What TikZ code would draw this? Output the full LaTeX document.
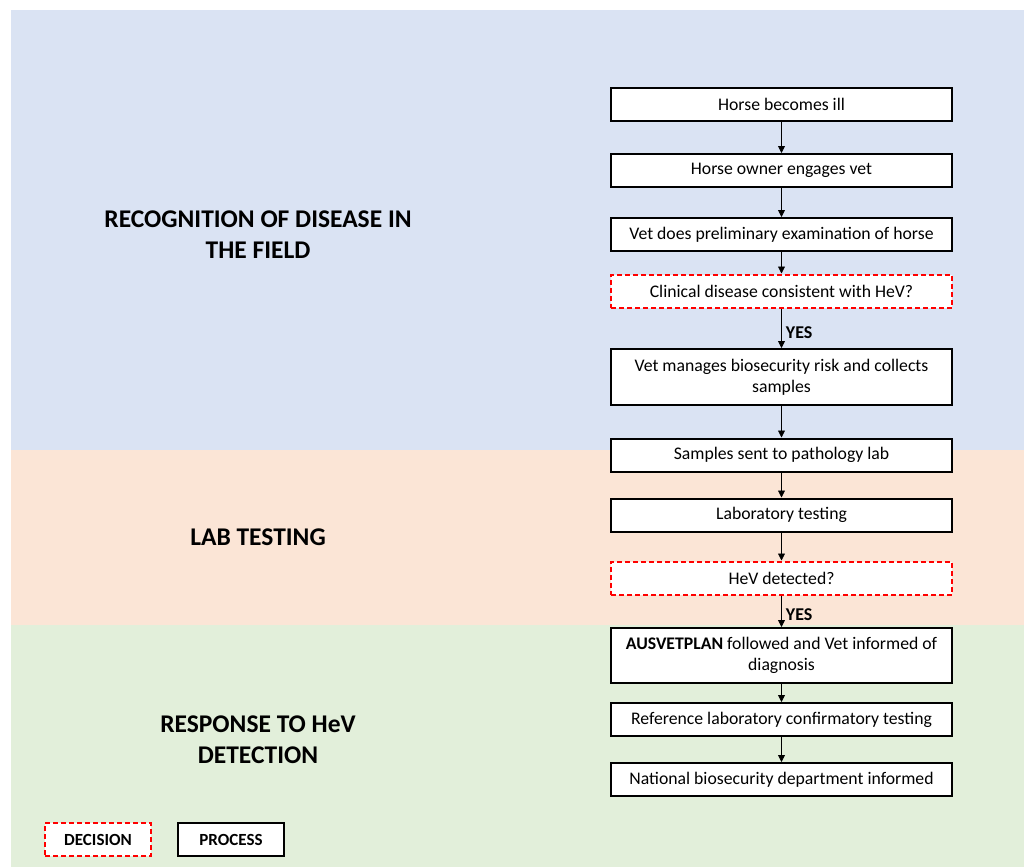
\documentclass[tikz,border=0pt]{standalone}
\usepackage{fontspec}
\setmainfont{Carlito}
\usetikzlibrary{arrows.meta}

\definecolor{bandblue}{RGB}{218,227,243}
\definecolor{bandpeach}{RGB}{251,229,214}
\definecolor{bandgreen}{RGB}{226,239,218}

\begin{document}
\begin{tikzpicture}[x=1pt,y=-1pt,
proc/.style={draw,line width=2pt,fill=white,minimum width=341pt,minimum height=33pt,inner sep=0pt,align=center,font=\fontsize{17.7}{21}\selectfont},
dec/.style={proc,draw=red,dash pattern=on 5pt off 3pt},
legbox/.style={proc,minimum width=106pt,font=\fontsize{17}{19}\selectfont\bfseries},
stage/.style={align=center,font=\fontsize{25.5}{31}\selectfont\bfseries},
arr/.style={line width=0.8pt,-{Triangle[length=7pt,width=7pt]}},
yes/.style={right,pos=0.6,inner sep=4pt,font=\fontsize{18}{20}\selectfont\bfseries}]
\useasboundingbox (0,0) rectangle (1024,867);
% background bands
\fill[bandblue] (11,10) rectangle (1024,450);
\fill[bandpeach] (11,450) rectangle (1024,625);
\fill[bandgreen] (11,625) rectangle (1024,867);
% stage titles
\node[stage] (recog) at (258,235) {RECOGNITION OF DISEASE IN\\THE FIELD};
\node[stage] (lab) at (258,537) {LAB TESTING};
\node[stage] (resp) at (258,740) {RESPONSE TO HeV\\DETECTION};
% flow
\node[proc] (b1) at (781.5,104.5) {Horse becomes ill};
\node[proc] (b2) at (781.5,170.5) {Horse owner engages vet};
\node[proc] (b3) at (781.5,234.5) {Vet does preliminary examination of horse};
\node[dec] (d1) at (781.5,291) {Clinical disease consistent with HeV?};
\node[proc,minimum height=56pt] (b5) at (781.5,377) {Vet manages biosecurity risk and collects\\samples};
\node[proc] (b6) at (781.5,455) {Samples sent to pathology lab};
\node[proc] (b7) at (781.5,515) {Laboratory testing};
\node[dec] (d2) at (781.5,578) {HeV detected?};
\node[proc,minimum height=55pt] (b9) at (781.5,655.5) {\textbf{AUSVETPLAN} followed and Vet informed of\\diagnosis};
\node[proc] (b10) at (781.5,719.5) {Reference laboratory confirmatory testing};
\node[proc] (b11) at (781.5,779.5) {National biosecurity department informed};
\foreach \a/\b in {b1/b2,b2/b3,b3/d1,b5/b6,b6/b7,b7/d2,b9/b10,b10/b11} {
   \draw[arr] (\a) -- (\b);
}
\draw[arr] (d1) -- node[yes]{YES} (b5);
\draw[arr] (d2) -- node[yes]{YES} (b9);
% legend
\node[legbox,draw=red,dash pattern=on 5pt off 3pt] (legdec) at (98,839.5) {DECISION};
\node[legbox] (legproc) at (231,839.5) {PROCESS};
\end{tikzpicture}
\end{document}
